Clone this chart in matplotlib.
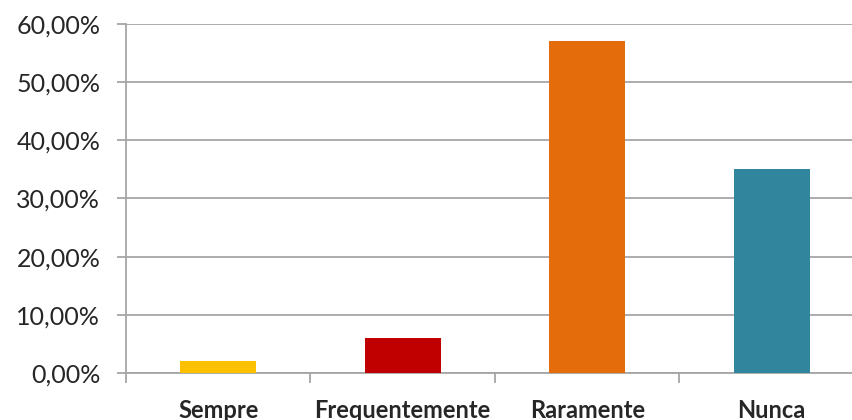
import matplotlib
matplotlib.use("Agg")
import matplotlib.pyplot as plt
from matplotlib.ticker import FuncFormatter, FixedLocator

categories = ["Sempre", "Frequentemente", "Raramente", "Nunca"]
values = [0.02, 0.06, 0.57, 0.35]
colors = ["#FFC000", "#C00000", "#E46C0A", "#31859C"]
yticks = [0.0, 0.1, 0.2, 0.3, 0.4, 0.5, 0.6]

plt.rcParams['font.family'] = ['Lato', 'DejaVu Sans']

fig = plt.figure(figsize=(8.53, 4.2), dpi=100)
# plot area runs past the right edge, as in the cropped original
ax = fig.add_axes([126 / 853, 47 / 420, 738 / 853, 349 / 420])

x = list(range(len(categories)))
ax.bar(x, values, width=0.41, color=colors, zorder=3)

ax.set_xlim(-0.5, len(categories) - 0.5)
ax.set_ylim(0, 0.6)
ax.yaxis.set_major_locator(FixedLocator(yticks))
ax.yaxis.set_major_formatter(FuncFormatter(lambda v, p: f"{v * 100:.2f}%".replace(".", ",")))
ax.yaxis.grid(True, color="#A6A6A6", lw=1.3, zorder=0)

ax.set_xticks([i - 0.5 for i in range(len(categories) + 1)])
ax.set_xticks(x, minor=True)
ax.set_xticklabels([])
ax.set_xticklabels(categories, minor=True, fontweight='bold')
ax.tick_params(axis='x', which='major', length=7, color="#A6A6A6", width=1.3)
ax.tick_params(axis='x', which='minor', length=0, labelsize=17, pad=19, labelcolor="#262626")
ax.tick_params(axis='y', length=6.5, color="#A6A6A6", width=1.3, labelsize=18,
               labelcolor="#262626", pad=12)

for s in ("top", "right"):
    ax.spines[s].set_visible(False)
for s in ("left", "bottom"):
    ax.spines[s].set_color("#A6A6A6")
    ax.spines[s].set_linewidth(1.3)

fig.savefig("out.png", dpi=100)
